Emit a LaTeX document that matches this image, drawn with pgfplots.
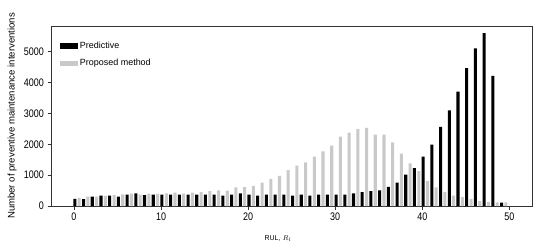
\documentclass[border=0pt]{standalone}
\usepackage{fontspec}
\setmainfont{Liberation Sans}
\newfontfamily\tickfont[FakeStretch=0.82]{Liberation Sans}
\usepackage{pgfplots}
\pgfplotsset{compat=1.18}

% black bars at i+0.1, grey bars at i+0.6
\begin{document}
\begin{tikzpicture}
\useasboundingbox (-51bp,-45bp) rectangle (499bp,206bp);
\begin{axis}[
  scale only axis,
  width=481bp, height=180bp,
  xmin=-2.64, xmax=52.6,
  ymin=0, ymax=5833,
  xtick={0,10,20,30,40,50},
  ytick={0,1000,2000,3000,4000,5000},
  tick align=outside,
  tick pos=left,
  major tick length=3.5bp,
  axis line style={black!80, line width=0.7pt},
  every tick/.style={black!80, line width=0.7pt},
  tick label style={font=\tickfont\fontsize{11}{12}\selectfont},
  /pgf/number format/assume math mode=true,
  /pgf/number format/set thousands separator={},
  scaled y ticks=false,
  ylabel={Number of preventive maintenance interventions},
  ylabel style={at={(axis description cs:-0.081,0.5)}, anchor=center, font=\fontsize{9.6}{10}\selectfont},
  xlabel={RUL, $R_l$},
  xlabel style={at={(axis description cs:0.472,0)}, anchor=north, yshift=-26bp, font=\fontsize{7}{8}\selectfont},
  legend style={at={(axis description cs:0.012,0.935)}, anchor=north west, draw=none, fill=none,
    font=\fontsize{9}{10}\selectfont, row sep=5.5bp},
  legend cell align=left,
  legend image code/.code={\fill[#1] (0bp,-2.7bp) rectangle (18bp,2.7bp);},
]
\addplot[ybar, bar shift=0pt, bar width=0.35, fill=black, draw=none] coordinates {
  (0.1,230) (1.1,220) (2.1,300) (3.1,340) (4.1,340) (5.1,300) (6.1,370) (7.1,410) (8.1,350) (9.1,370)
  (10.1,370) (11.1,370) (12.1,370) (13.1,370) (14.1,370) (15.1,370) (16.1,370) (17.1,340) (18.1,370) (19.1,410)
  (20.1,370) (21.1,340) (22.1,370) (23.1,370) (24.1,370) (25.1,340) (26.1,370) (27.1,340) (28.1,370) (29.1,370)
  (30.1,370) (31.1,370) (32.1,410) (33.1,450) (34.1,480) (35.1,510) (36.1,620) (37.1,760) (38.1,1020) (39.1,1230)
  (40.1,1600) (41.1,1990) (42.1,2560) (43.1,3100) (44.1,3710) (45.1,4470) (46.1,5110) (47.1,5600) (48.1,4220) (49.1,110)
};
\addlegendentry{Predictive}
\addplot[ybar, bar shift=0pt, bar width=0.35, fill=black!21, draw=none] coordinates {
  (0.6,260) (1.6,300) (2.6,300) (3.6,330) (4.6,360) (5.6,380) (6.6,400) (7.6,370) (8.6,400) (9.6,390)
  (10.6,410) (11.6,430) (12.6,400) (13.6,430) (14.6,450) (15.6,480) (16.6,510) (17.6,500) (18.6,600) (19.6,610)
  (20.6,650) (21.6,760) (22.6,870) (23.6,980) (24.6,1160) (25.6,1310) (26.6,1410) (27.6,1600) (28.6,1770) (29.6,1960)
  (30.6,2250) (31.6,2380) (32.6,2490) (33.6,2530) (34.6,2310) (35.6,2310) (36.6,2060) (37.6,1700) (38.6,1380) (39.6,1130)
  (40.6,810) (41.6,600) (42.6,450) (43.6,340) (44.6,290) (45.6,230) (46.6,160) (47.6,130) (48.6,120) (49.6,120)
};
\addlegendentry{Proposed method}
\end{axis}
\end{tikzpicture}
\end{document}
